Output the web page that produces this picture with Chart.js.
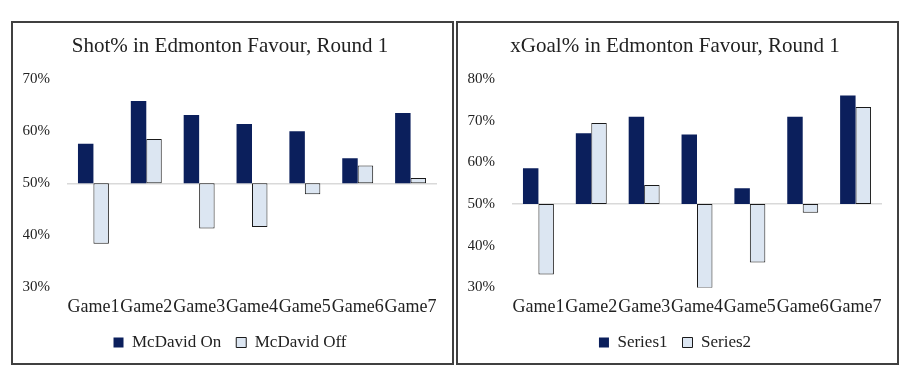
<!DOCTYPE html>
<html>
<head>
<meta charset="utf-8">
<script src="https://cdn.jsdelivr.net/npm/chart.js@4/dist/chart.umd.min.js"></script>
<style>
  body { margin: 0; background: #fff; width: 911px; height: 385px; position: relative; overflow: hidden; }
  .box { position: absolute; top: 21px; width: 443px; height: 344px; border: 2px solid #404040; box-sizing: border-box; }
  .box canvas { position: absolute; left: 0; top: 0; }
</style>
</head>
<body>
<div class="box" style="left:11px"><canvas id="shotChart" width="439" height="340"></canvas></div>
<div class="box" style="left:456px"><canvas id="xgoalChart" width="439" height="340"></canvas></div>
<script>
const games = ["Game1", "Game2", "Game3", "Game4", "Game5", "Game6", "Game7"];

// Shot% (left chart)
const shotOn = [57.6, 65.8, 63.1, 61.4, 60.0, 54.8, 63.5];
const shotOff = [38.4, 58.5, 41.3, 41.6, 47.9, 53.4, 51.0];

// xGoal% (right chart)
const xgSeries1 = [58.6, 67.0, 71.0, 66.7, 53.8, 71.0, 76.1];
const xgSeries2 = [33.1, 69.5, 54.6, 29.8, 36.0, 47.9, 73.3];

const baseline = 50;
const darkBlue = "#0b1f5c";
const lightBlue = "#dce6f2";
const serif = "'Liberation Serif', 'DejaVu Serif', serif";

const makeChart = (canvasId, title, names, first, second, yMax) => {
  const ctx = document.getElementById(canvasId).getContext("2d");
  return new Chart(ctx, {
    type: "bar",
    data: {
      labels: games,
      datasets: [
        {
          label: names[0],
          data: first.map((v) => [baseline, v]),
          backgroundColor: darkBlue,
          borderColor: darkBlue,
          borderWidth: 0,
          borderSkipped: false,
        },
        {
          label: names[1],
          data: second.map((v) => [baseline, v]),
          backgroundColor: lightBlue,
          borderColor: "#1a1a1a",
          borderWidth: 1,
          borderSkipped: false,
        },
      ],
    },
    options: {
      responsive: false,
      animation: false,
      categoryPercentage: 0.585,
      barPercentage: 1,
      layout: { padding: { left: 10, right: 15, top: 0, bottom: 2 } },
      scales: {
        x: {
          grid: { display: false },
          border: { display: false },
          afterFit: (scale) => {
            // labels may run to the box edge, like in the original
            scale.paddingLeft = 0;
            scale.paddingRight = 0;
          },
          ticks: {
            autoSkip: false,
            maxRotation: 0,
            padding: 1,
            color: "#222",
            font: { family: serif, size: 18 },
          },
        },
        y: {
          min: 30,
          max: yMax,
          border: { display: false },
          afterFit: (scale) => {
            scale.width = 44;
          },
          grid: {
            drawTicks: false,
            lineWidth: 1.5,
            color: (c) => (c.tick && c.tick.value === baseline ? "#d9d9d9" : "rgba(0,0,0,0)"),
          },
          ticks: {
            stepSize: 10,
            padding: 17,
            color: "#222",
            font: { family: serif, size: 15 },
            callback: (v) => v + "%",
          },
        },
      },
      plugins: {
        tooltip: { enabled: false },
        title: {
          display: true,
          text: title,
          color: "#222",
          font: { family: serif, size: 21, weight: "normal" },
          padding: { top: 11, bottom: 20 },
        },
        legend: {
          position: "bottom",
          labels: {
            boxWidth: 10,
            boxHeight: 10,
            padding: 15,
            color: "#222",
            font: { family: serif, size: 17 },
          },
        },
      },
    },
  });
};

makeChart("shotChart", "Shot% in Edmonton Favour, Round 1", ["McDavid On", "McDavid Off"], shotOn, shotOff, 70);
makeChart("xgoalChart", "xGoal% in Edmonton Favour, Round 1", ["Series1", "Series2"], xgSeries1, xgSeries2, 80);
</script>
</body>
</html>
